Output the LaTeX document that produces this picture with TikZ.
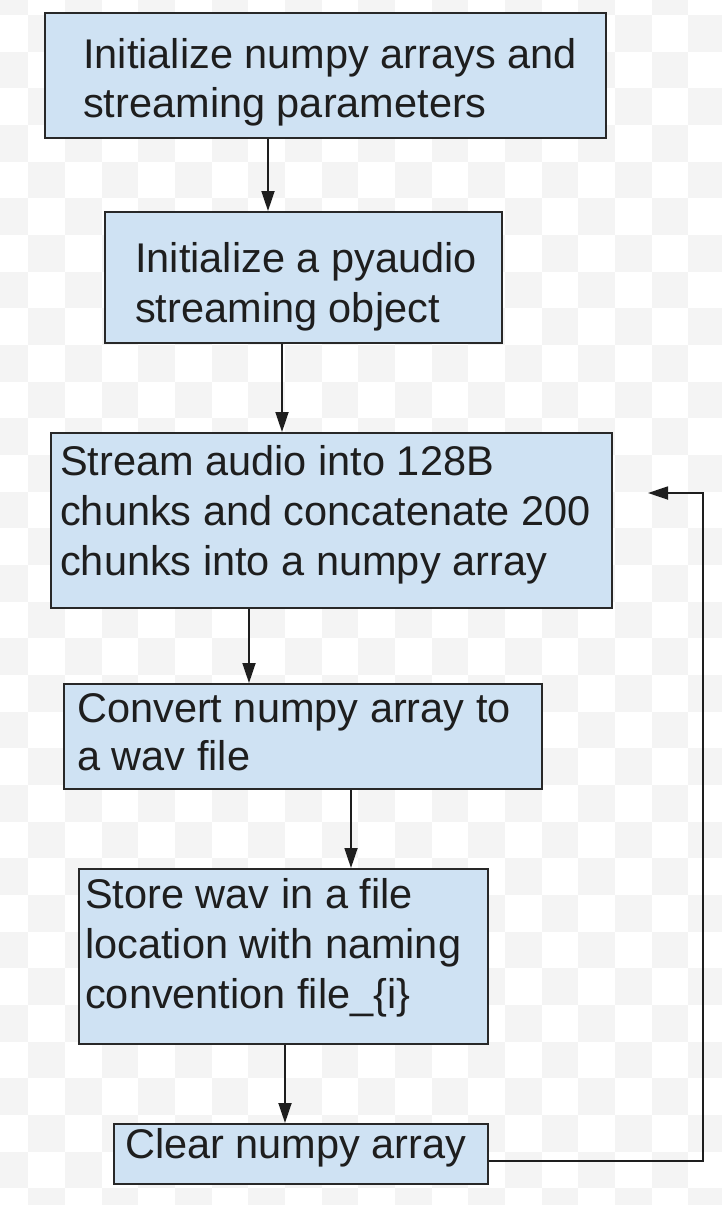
\documentclass[tikz,border=0pt]{standalone}
\usepackage{fontspec}
\setmainfont{Liberation Sans}
\usetikzlibrary{arrows.meta}
\definecolor{boxfill}{RGB}{207,226,243}
\definecolor{boxline}{RGB}{40,40,40}
\definecolor{inkdark}{RGB}{30,30,30}
\definecolor{checkgrey}{RGB}{244,244,244}
\tikzset{
  stepbox/.style={draw=boxline, fill=boxfill, line width=2.2pt, rectangle,
    inner sep=0pt, anchor=north west},
  steptext/.style={anchor=base west, inner sep=0pt, text=inkdark,
    font=\fontsize{41.5}{49}\selectfont},
  flow/.style={draw=inkdark, line width=1.8pt,
    -{Triangle[length=20pt,width=13pt]}},
}
\begin{document}
\begin{tikzpicture}[x=1pt,y=-1pt]
  \useasboundingbox (0,0) rectangle (722,1205);
  % faint checkered backdrop
  \fill[white] (0,0) rectangle (722,1205);
  \begin{scope}
    \clip (0,0) rectangle (722,1205);
    \foreach \i in {0,...,20}{
      \foreach \j in {0,...,34}{
        \pgfmathtruncatemacro{\cpar}{mod(\i+\j,2)}
        \ifnum\cpar=0
          \fill[checkgrey] ({28.3+36.667*(\i-1)},{15+36.667*(\j-1)}) rectangle ++(36.667,36.667);
        \fi
      }
    }
  \end{scope}

  % process steps
  \node[stepbox, minimum width=561pt, minimum height=125pt] (b1) at (44,12) {};
  \node[stepbox, minimum width=397pt, minimum height=131pt] (b2) at (104,211) {};
  \node[stepbox, minimum width=561pt, minimum height=175pt] (b3) at (50,432) {};
  \node[stepbox, minimum width=478pt, minimum height=105pt] (b4) at (63,683) {};
  \node[stepbox, minimum width=409pt, minimum height=175pt] (b5) at (78,868) {};
  \node[stepbox, minimum width=374pt, minimum height=60pt]  (b6) at (113,1123) {};

  % step labels
  \node[steptext] (t1a) at (83,68)  {Initialize numpy arrays and};
  \node[steptext] (t1b) at (83,117) {streaming parameters};
  \node[steptext] (t2a) at (135,272) {Initialize a pyaudio};
  \node[steptext] (t2b) at (135,322) {streaming object};
  \node[steptext] (t3a) at (60,475) {Stream audio into 128B};
  \node[steptext] (t3b) at (60,525) {chunks and concatenate 200};
  \node[steptext] (t3c) at (60,575) {chunks into a numpy array};
  \node[steptext] (t4a) at (77,722) {Convert numpy array to};
  \node[steptext] (t4b) at (77,770) {a wav file};
  \node[steptext] (t5a) at (85,908)  {Store wav in a file};
  \node[steptext] (t5b) at (85,958)  {location with naming};
  \node[steptext] (t5c) at (85,1008) {convention file\_\{i\}};
  \node[steptext] (t6a) at (125,1158) {Clear numpy array};

  % connectors
  \draw[flow] (268,0 |- b1.south) -- (268,0 |- b2.north);
  \draw[flow] (282,0 |- b2.south) -- (282,0 |- b3.north);
  \draw[flow] (249,0 |- b3.south) -- (249,0 |- b4.north);
  \draw[flow] (351,0 |- b4.south) -- (351,0 |- b5.north);
  \draw[flow] (285,0 |- b5.south) -- (285,0 |- b6.north);

  % loop back to the streaming step
  \coordinate (loopout) at (b6.east |- 0,1161);
  \coordinate (loopin) at (648,493);
  \draw[flow] (loopout) -- (703,1161) -- (703,493) -- (loopin);
\end{tikzpicture}
\end{document}
